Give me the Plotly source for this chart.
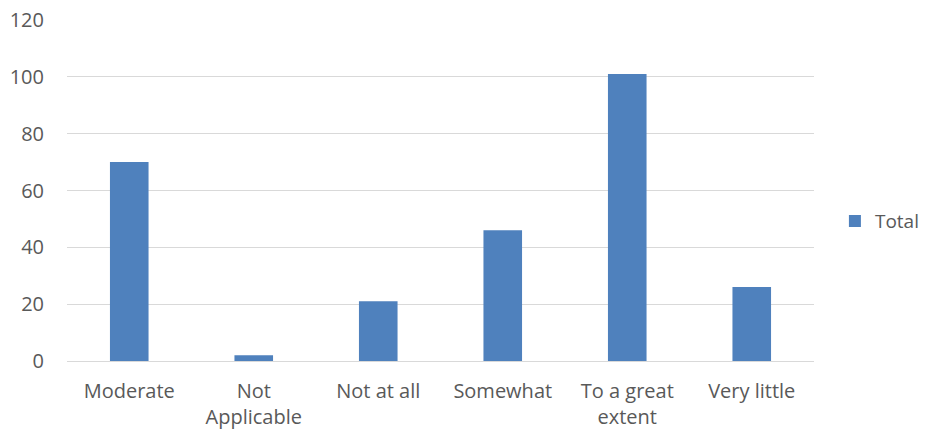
import plotly.graph_objects as go

categories = ["Moderate", "Not Applicable", "Not at all", "Somewhat", "To a great extent", "Very little"]
tick_labels = ["Moderate", "Not<br>Applicable", "Not at all", "Somewhat", "To a great<br>extent", "Very little"]
values = [70, 2, 21, 46, 101, 26]
y_ticks = [0, 20, 40, 60, 80, 100, 120]

fig = go.Figure()
fig.add_trace(go.Bar(
    x=categories, y=values, name="Total",
    marker=dict(color="#4f81bd", line=dict(width=0)),
))

font_family = "Open Sans, Liberation Sans, sans-serif"
fig.update_layout(
    width=925, height=435,
    margin=dict(l=67, r=111, t=20, b=74, autoexpand=False),
    paper_bgcolor="white", plot_bgcolor="white",
    bargap=0.69,
    showlegend=True,
    legend=dict(x=1.028, y=0.41, xanchor="left", yanchor="middle",
                font=dict(family=font_family, size=19, color="#595959"),
                itemwidth=30, bgcolor="rgba(0,0,0,0)"),
    font=dict(family=font_family, size=20, color="#595959"),
)
fig.update_xaxes(
    tickmode="array", tickvals=categories, ticktext=tick_labels,
    showgrid=False, showline=False, ticks="",
    ticklabelstandoff=16,
    tickfont=dict(family=font_family, size=20, color="#595959"),
)
fig.update_yaxes(
    range=[0, 120], tickmode="array", tickvals=y_ticks,
    showgrid=True, gridcolor="#d9d9d9", gridwidth=1,
    zeroline=True, zerolinecolor="#d9d9d9", zerolinewidth=1,
    showline=False, ticks="", ticklabelstandoff=22,
    tickfont=dict(family=font_family, size=20, color="#595959"),
)
fig.write_html(
    "out.html",
    config={"displayModeBar": False},
    post_script="document.body.style.margin='0';document.body.style.overflow='hidden';",
)
